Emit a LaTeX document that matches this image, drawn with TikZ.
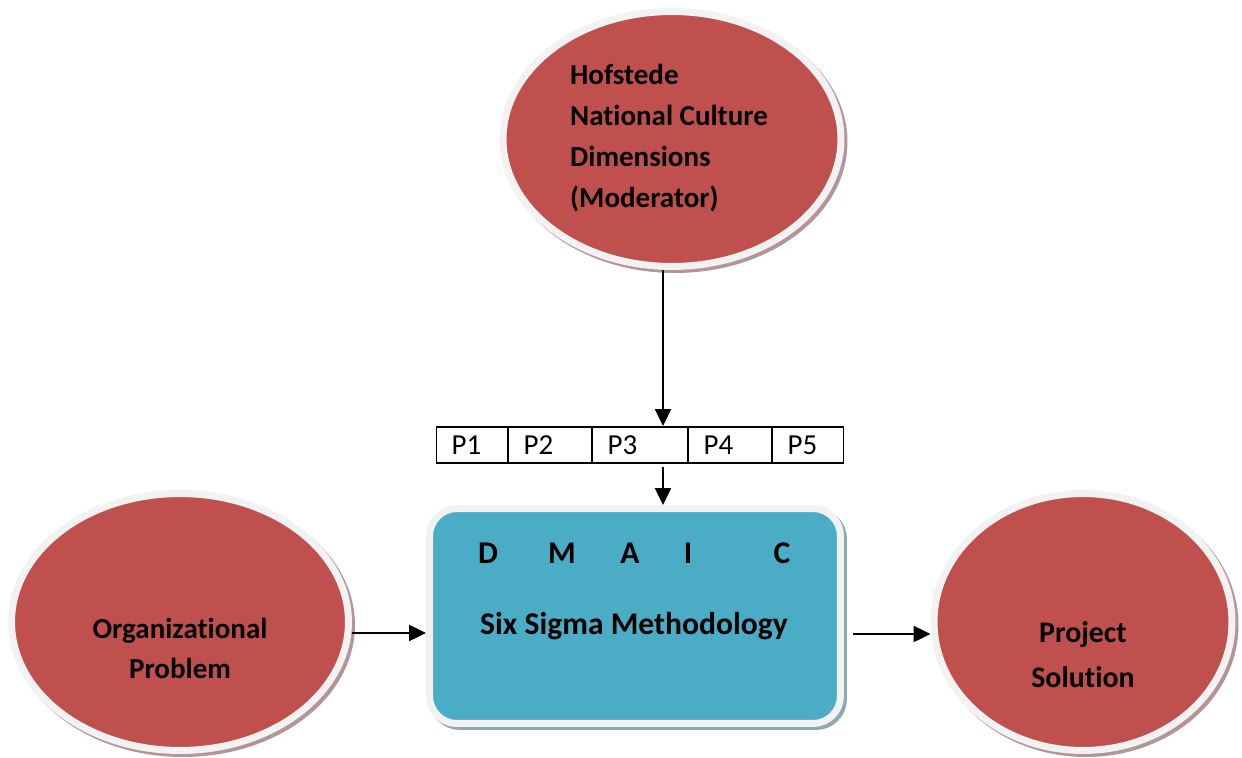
\documentclass[tikz,border=0pt]{standalone}
\usepackage{fontspec}
\setmainfont{Carlito}[Ligatures=NoCommon]
\usepackage{tikz}
\usetikzlibrary{positioning,shapes.geometric,shadows,arrows.meta}

\definecolor{ovalred}{HTML}{C0504D}
\definecolor{boxblue}{HTML}{4BACC6}
\definecolor{ringgray}{HTML}{F2F2F2}
\definecolor{redshade}{HTML}{B49597}
\definecolor{blueshade}{HTML}{8FA9B1}

\begin{document}
\begin{tikzpicture}[x=0.02cm, y=-0.02cm,
		ovalnode/.style={ellipse, fill=ovalred, draw=ringgray, line width=0.14cm, inner sep=0pt,
			drop shadow={shadow xshift=0.06cm, shadow yshift=-0.06cm, fill=redshade, draw=redshade, line width=0.14cm, opacity=1}},
		stagebox/.style={rectangle, rounded corners=0.55cm, fill=boxblue, draw=ringgray, line width=0.14cm,
			minimum width=8.22cm, minimum height=4.3cm,
			drop shadow={shadow xshift=0.06cm, shadow yshift=-0.06cm, fill=blueshade, draw=blueshade, line width=0.14cm, opacity=1}},
		ovaltext/.style={font=\bfseries\fontsize{16.5}{22.7}\selectfont, align=center},
		pcell/.style={rectangle, draw, line width=0.6pt, minimum height=0.72cm, inner xsep=0.3cm, inner ysep=0pt,
			align=left, font=\fontsize{16.5}{18}\selectfont},
		arr/.style={-{Triangle[length=0.34cm, width=0.32cm]}, line width=1.3pt},
		]
		\useasboundingbox (0,0) rectangle (1242,758);
		
		%Nodes
		\node[ovalnode, minimum width=6.76cm, minimum height=5.1cm] (hof) at (672,139) {};
		\node[ovaltext, align=left, font=\bfseries\fontsize{16.5}{23.3}\selectfont] (hoftext) at (669,138)
			{Hofstede\\National Culture\\Dimensions\\(Moderator)};
		\node[ovalnode, minimum width=6.74cm, minimum height=5.14cm] (prob) at (180,622) {};
		\node[ovalnode, minimum width=5.96cm, minimum height=5.14cm] (sol) at (1083,622) {};
		\node[ovaltext] (probtext) at (180,648) {Organizational\\Problem};
		\node[ovaltext, font=\bfseries\fontsize{17}{25.6}\selectfont] (soltext) at (1083,655) {Project\\Solution};
		
		\node[stagebox] (box) at (635,616) {};
		\foreach \l/\x in {D/488, M/562, A/630, I/688, C/782}
			\node[font=\bfseries\fontsize{18}{20}\selectfont] (step\l) at (\x,553) {\l};
		\node[font=\bfseries\fontsize{18}{20}\selectfont] (sixsigma) at (634,626) {Six Sigma Methodology};
		
		\node[pcell, text width=0.82cm, anchor=west] (p1) at (436,445) {P1};
		\node[pcell, text width=1.06cm] (p2) [right=0pt of p1] {P2};
		\node[pcell, text width=1.30cm] (p3) [right=0pt of p2] {P3};
		\node[pcell, text width=1.06cm] (p4) [right=0pt of p3] {P4};
		\node[pcell, text width=0.82cm] (p5) [right=0pt of p4] {P5};
		\coordinate (pin) at (663,426);
		
		%Lines
		\draw[arr] (hof.south -| pin) -- (pin);
		\draw[arr, shorten <=2pt] (p3.south -| pin) -- (box.north -| pin);
		\draw[arr] ([yshift=-0.22cm]prob.east) -- ([yshift=-0.22cm]prob.east -| box.west);
		\draw[arr, shorten <=0.18cm] ([yshift=-0.36cm]box.east) -- ([yshift=-0.36cm]box.east -| sol.west);
		\end{tikzpicture}
\end{document}
